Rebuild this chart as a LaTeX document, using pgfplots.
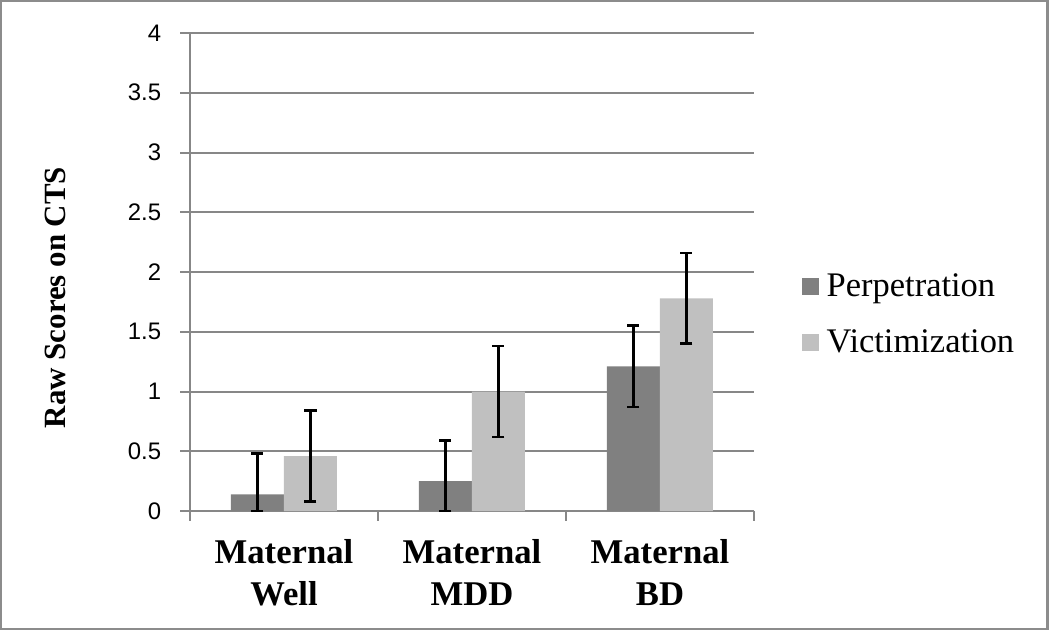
\documentclass[border=0pt]{standalone}
\usepackage{fontspec}
\setmainfont{Liberation Serif}
\newfontfamily\tickfont{Liberation Sans}
\usepackage{pgfplots}
\pgfplotsset{compat=1.18}

\definecolor{perp}{HTML}{808080}
\definecolor{vict}{HTML}{C0C0C0}
\definecolor{gridgray}{HTML}{878787}
\definecolor{framegray}{HTML}{8C8C8C}

\begin{document}
\begin{tikzpicture}
\useasboundingbox (-95bp,-60bp) rectangle (430bp,255.5bp);
\draw[framegray, line width=1.25bp] (-94.5bp,-59bp) rectangle (428.75bp,255bp);
\begin{axis}[
    scale only axis,
    width=282bp, height=239bp,
    ybar=0pt, bar width=26.5bp,
    xmin=-0.5, xmax=2.5,
    ymin=0, ymax=4,
    ytick={0,0.5,1,1.5,2,2.5,3,3.5,4},
    yticklabels={0,0.5,1,1.5,2,2.5,3,3.5,4},
    xtick={-0.5,0.5,1.5,2.5},
    xticklabels={},
    extra x ticks={0,1,2},
    extra x tick labels={{Maternal\\Well},{Maternal\\MDD},{Maternal\\BD}},
    extra x tick style={major tick length=0pt, grid=none},
    axis x line*=bottom, axis y line*=left,
    axis line style={gridgray, line width=1bp},
    every tick/.style={gridgray, line width=1bp},
    tick align=outside, major tick length=4.75bp,
    ymajorgrids, y grid style={gridgray, line width=1bp},
    yticklabel style={font=\tickfont\fontsize{12}{14}\selectfont, anchor=east, inner sep=0pt, xshift=-9.5bp},
    xticklabel style={font=\bfseries\fontsize{17.4}{21}\selectfont, align=center, anchor=north, inner sep=0pt, yshift=-13.85bp},
    ylabel={Raw Scores on CTS},
    every axis y label/.style={at={(axis description cs:-0.2200,0.4467)}, rotate=90, anchor=base, font=\bfseries\fontsize{15.5}{18}\selectfont},
    legend style={draw=none, fill=none, at={(axis description cs:1.0846,0.4069)}, anchor=west, inner sep=0pt, outer sep=0pt,
      nodes={inner sep=0pt, text height=12bp, text depth=4bp, font=\fontsize{17.3}{20}\selectfont},
      row sep=11.8bp, column sep=4bp},
    legend cell align=left,
    legend image code/.code={\fill[#1] (0bp,-3.25bp) rectangle (8.5bp,5.25bp);},
    error bars/error bar style={black, line width=1.35bp},
    error bars/error mark options={black, line width=1.35bp, mark size=3bp, rotate=90},
]
\addplot[fill=perp, draw=none, error bars/.cd, y dir=both, y explicit]
  coordinates {
    (0,0.14) += (0,0.34) -= (0,0.14)
    (1,0.25) += (0,0.34) -= (0,0.25)
    (2,1.21) += (0,0.34) -= (0,0.34)
  };
\addplot[fill=vict, draw=none, error bars/.cd, y dir=both, y explicit]
  coordinates {
    (0,0.46) += (0,0.38) -= (0,0.38)
    (1,1.00) += (0,0.38) -= (0,0.38)
    (2,1.78) += (0,0.38) -= (0,0.38)
  };
\legend{Perpetration, Victimization}
\end{axis}
\end{tikzpicture}
\end{document}
